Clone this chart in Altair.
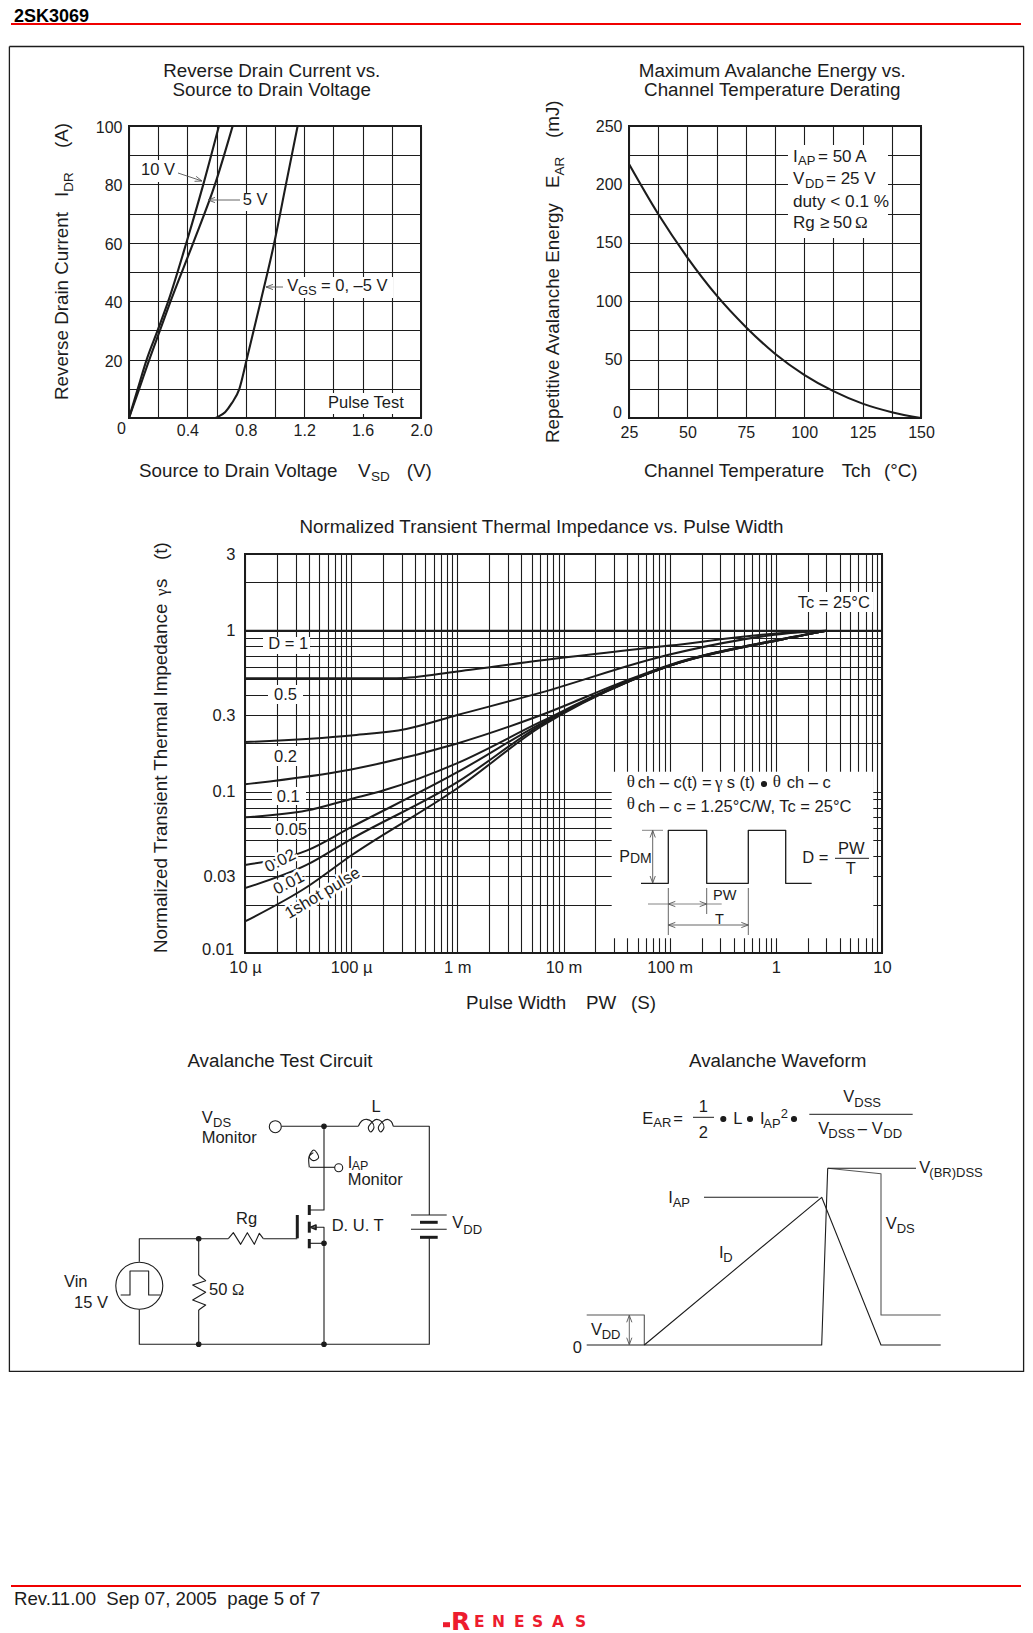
import math
import pandas as pd
import altair as alt

INK = "#1c1c1c"
RED = "#f00000"
SANS = "Liberation Sans"
GREEK = "Liberation Serif"
TS = 18.8

# ---------- chart values ----------
ID_LEVELS = [0, 10, 20, 30, 40, 60, 80, 100]
VSD_10V = [0, 0.06, 0.121, 0.196, 0.269, 0.393, 0.509, 0.616]
VSD_5V = [0, 0.07, 0.139, 0.212, 0.285, 0.44, 0.589, 0.71]
ID_0V = [0, 0, 0.5, 2, 5, 10, 20, 40, 60, 80, 100]
VSD_0V = [0, 0.59, 0.612, 0.658, 0.703, 0.756, 0.806, 0.902, 0.995, 1.075, 1.155]

TCH = [25, 37.5, 50, 62.5, 75, 87.5, 100, 112.5, 125, 137.5, 150]
EAR = [217.4, 174.6, 137.4, 105, 78, 55, 37, 23, 12.3, 5, 0]

PW_1 = [1e-5, 10]
RS_1 = [1, 1]
PW_05 = [1e-5, 1e-4, 2.7e-4, 1e-3, 6e-3, 0.1, 1.15, 3]
RS_05 = [0.508, 0.508, 0.508, 0.56, 0.654, 0.81, 0.97, 1]
PW_02 = [1e-5, 1e-4, 3.3e-4, 1e-3, 6e-3, 0.1, 1.15, 3]
RS_02 = [0.204, 0.224, 0.246, 0.30, 0.412, 0.713, 0.957, 1]
PW_01 = [1e-5, 1e-4, 1e-3, 6e-3, 0.0427, 0.1, 1.15, 3]
RS_01 = [0.1117, 0.138, 0.2, 0.298, 0.503, 0.615, 0.89, 1]
PW_005 = [1e-5, 3.8e-5, 1e-4, 2e-4, 1e-3, 6e-3, 0.0427, 0.1, 1.15, 3]
RS_005 = [0.0696, 0.0766, 0.0905, 0.102, 0.151, 0.271, 0.495, 0.607, 0.885, 1]
PW_002 = [1e-5, 3.8e-5, 1e-4, 1e-3, 6e-3, 0.0427, 0.1, 1.15, 3]
RS_002 = [0.0352, 0.0432, 0.0604, 0.1325, 0.264, 0.492, 0.607, 0.885, 1]
PW_001 = [1e-5, 3.8e-5, 1e-4, 1e-3, 6e-3, 0.0427, 0.1, 1.15, 3]
RS_001 = [0.0253, 0.0352, 0.051, 0.115, 0.258, 0.49, 0.607, 0.885, 1]
PW_1S = [1e-5, 3.8e-5, 1e-4, 1e-3, 6e-3, 0.0427, 0.1, 1.15, 3]
RS_1S = [0.0157, 0.0256, 0.0403, 0.1054, 0.252, 0.49, 0.609, 0.89, 1]

X3_DECADES = [-5, -4, -3, -2, -1, 0, 1]
X3_LABELS = ["10 µ", "100 µ", "1 m", "10 m", "100 m", "1", "10"]
Y3_TICKS = [3, 1, 0.3, 0.1, 0.03]
Y3_LABELS = ["3", "1", "0.3", "0.1", "0.03"]

# ---------- layout ----------
PAGE_W, PAGE_H = 1017, 1625
P1 = 292
C3_W, C3_H = 637, 399
LEFT_1, GAP_12 = 121, 208
LEFT_3 = 237
TOP = 118
GAP_ROWS = 136


def frame():
    return alt.ViewBackground(stroke=INK, strokeWidth=2)


def axis(values, expr, pad, offset=0, size=16):
    return alt.Axis(values=values, labelExpr=expr, title=None, ticks=False, domain=False,
                    grid=True, gridColor=INK, gridWidth=1.1, labelFont=SANS, labelFontSize=size,
                    labelColor=INK, labelPadding=pad, labelOverlap=False, labelBound=False,
                    labelFlush=False, labelOffset=offset)


def table(**series):
    rows = []
    for name, (xs, ys) in series.items():
        rows += [{"curve": name, "u": x, "v": y} for x, y in zip(xs, ys)]
    return pd.DataFrame(rows)


# ---------- the three graphs ----------
chart1 = alt.Chart(table(a=(VSD_10V, ID_LEVELS), b=(VSD_5V, ID_LEVELS), c=(VSD_0V, ID_0V))).mark_line(
    interpolate="monotone", clip=True, color=INK, strokeWidth=2.1
).encode(
    x=alt.X("u:Q", scale=alt.Scale(domain=[0, 2], nice=False),
            axis=axis([round(0.2 * i, 1) for i in range(11)],
                      "(round(datum.value*10)%4==0 && datum.value>0) ? format(datum.value,'.1f') : ''", 4)),
    y=alt.Y("v:Q", scale=alt.Scale(domain=[0, 100], nice=False),
            axis=axis([10 * i for i in range(11)],
                      "(datum.value%20==0 && datum.value>0) ? datum.value : ''", 7, 1.5)),
    detail="curve:N",
).properties(width=P1, height=P1, view=frame())

chart2 = alt.Chart(table(a=(TCH, EAR))).mark_line(
    interpolate="monotone", clip=False, color=INK, strokeWidth=2.1
).encode(
    x=alt.X("u:Q", scale=alt.Scale(domain=[25, 150], nice=False),
            axis=axis([25 + 12.5 * i for i in range(11)],
                      "(datum.value-25)%25==0 ? datum.value : ''", 6)),
    y=alt.Y("v:Q", scale=alt.Scale(domain=[0, 250], nice=False),
            axis=axis([25 * i for i in range(11)],
                      "(datum.value%50==0 && datum.value>0) ? datum.value : ''", 7, 0)),
    detail="curve:N",
).properties(width=P1, height=P1, view=frame())

x3_values = [m * 10.0 ** d for d in X3_DECADES[:-1] for m in range(1, 10)] + [10]
x3_expr = "".join(
    f"abs(log(datum.value)/LN10-({d}))<0.000001 ? '{t}' : " for d, t in zip(X3_DECADES, X3_LABELS)
) + "''"
y3_values = [m * 0.01 for m in range(1, 10)] + [m * 0.1 for m in range(1, 10)] + [1, 2, 3]
y3_expr = "".join(
    f"abs(datum.value-{v})<0.0000001 ? '{t}' : " for v, t in zip(Y3_TICKS, Y3_LABELS)
) + "''"

chart3 = alt.Chart(table(
    d1=(PW_1, RS_1), d05=(PW_05, RS_05), d02=(PW_02, RS_02), d01=(PW_01, RS_01),
    d005=(PW_005, RS_005), d002=(PW_002, RS_002), d001=(PW_001, RS_001), s1=(PW_1S, RS_1S),
)).mark_line(interpolate="monotone", clip=True, color=INK, strokeWidth=2).encode(
    x=alt.X("u:Q", scale=alt.Scale(type="log", domain=[1e-5, 10], nice=False),
            axis=axis(x3_values, x3_expr, 6, 0, 16.5)),
    y=alt.Y("v:Q", scale=alt.Scale(type="log", domain=[0.01, 3], nice=False),
            axis=axis(y3_values, y3_expr, 10, 0, 16.5)),
    detail="curve:N",
).properties(width=C3_W, height=C3_H, view=frame())

# ---------- page drawing: headers, frame, annotations, diagrams ----------
lines, smooth, rects, dots, left, center, greek, halo, bold = [], [], [], [], [], [], [], [], []


def L(pts, w=1.2, c=INK, into=None):
    target = lines if into is None else into
    uid = f"s{len(lines)}_{len(smooth)}"
    for i, (x, y) in enumerate(pts):
        target.append({"id": uid, "seq": i, "x": x, "y": y, "w": w, "c": c})


def T(x, y, t, s=16.5, a=0, c=INK):
    left.append({"x": x, "y": y, "t": t, "s": s, "a": a, "c": c})


def C(x, y, t, s=16.5):
    center.append({"x": x, "y": y, "t": t, "s": s, "a": 0, "c": INK})


def G(x, y, t, s=16.5, a=0):
    greek.append({"x": x, "y": y, "t": t, "s": s, "a": a, "c": INK})


def R(x1, y1, x2, y2):
    rects.append({"x": x1, "y": y1, "x2": x2, "y2": y2})


def D(x, y, d=4.5, fill=INK):
    dots.append({"x": x, "y": y, "d": d * d, "f": fill})


def HEAD(x, y, dx, dy, c="#555555", n=7, h=2.6):
    qx, qy = -dy, dx
    L([(x + dx * n + qx * h, y + dy * n + qy * h), (x, y), (x + dx * n - qx * h, y + dy * n - qy * h)], 0.9, c)


def Z5(zx, zy):
    return (50 + zx / 3, 1040 + zy / 3)


# header and footer
bold.append({"x": 14, "y": 22.3, "t": "2SK3069", "s": 18, "a": 0, "c": "#000000"})
L([(11, 23.9), (1021, 23.9)], 2, RED)
L([(9.4, 46.5), (1023.6, 46.5), (1023.6, 1371.4), (9.4, 1371.4), (9.4, 46.5)], 1.3)
L([(11, 1586), (1021, 1586)], 2, RED)
T(14, 1605, "Rev.11.00\u00a0\u00a0Sep 07, 2005\u00a0\u00a0page 5 of 7", 18.6)

# panel titles
C(271.7, 76.7, "Reverse Drain Current vs.", TS)
C(271.7, 95.7, "Source to Drain Voltage", TS)
C(772.3, 76.7, "Maximum Avalanche Energy vs.", TS)
C(772.3, 95.7, "Channel Temperature Derating", TS)
C(541.5, 532.7, "Normalized Transient Thermal Impedance vs. Pulse Width", TS)
C(280, 1066.7, "Avalanche Test Circuit", TS)
C(777.7, 1066.7, "Avalanche Waveform", TS)

# graph 1 axis texts and notes
T(68, 400, "Reverse Drain Current", TS, 270)
T(68, 197, "I", TS, 270)
T(73, 191.7, "DR", 13.5, 270)
T(68, 148, "(A)", TS, 270)
T(139, 476.7, "Source to Drain Voltage", TS)
T(358, 476.7, "V", TS)
T(371, 481, "SD", 13.5)
T(406.7, 476.7, "(V)", TS)
T(117, 433.5, "0", 16)
R(137, 160, 177, 182)
T(141, 175, "10 V")
L([(178, 173), (202, 181)], 0.9, "#555555")
HEAD(202, 181, -0.95, -0.31)
R(241, 193, 270, 211)
T(242.7, 205, "5 V")
L([(240, 200), (208, 200)], 0.9, "#555555")
HEAD(208, 200, 1, 0)
R(284, 277, 393, 298)
T(287.3, 291, "V")
T(298, 295, "GS", 13)
T(321, 291, "= 0, –5 V")
L([(283, 287), (266, 287)], 0.9, "#555555")
HEAD(266, 287, 1, 0)
R(325, 393, 412, 414)
T(328, 408, "Pulse Test")

# graph 2 axis texts and notes
T(559.3, 443, "Repetitive Avalanche Energy", TS, 270)
T(559.3, 188, "E", TS, 270)
T(563.5, 175.5, "AR", 13.5, 270)
T(559.3, 138, "(mJ)", TS, 270)
T(644, 476.7, "Channel Temperature", TS)
T(841.7, 476.7, "Tch", TS)
T(884, 476.7, "(°C)", TS)
T(613, 418, "0", 16)
R(788, 145, 888, 238)
T(793, 161.7, "I", 17)
T(798, 165, "AP", 13)
T(818, 161.7, "= 50 A", 17)
T(793, 184, "V", 17)
T(805, 188, "DD", 13)
T(826, 184, "= 25 V", 17)
T(793, 206.7, "duty < 0.1 %", 17.2)
T(793, 228, "Rg", 17)
T(820, 228, "≥", 17)
T(833, 228, "50", 17)
G(855, 228, "Ω", 17)

# graph 3 axis texts and notes
T(166.7, 953, "Normalized Transient Thermal Impedance", TS, 270)
G(166.7, 596, "γ", 17, 270)
T(166.7, 588, "s", TS, 270)
T(166.7, 560, "(t)", TS, 270)
T(466, 1008.5, "Pulse Width", TS)
T(586, 1008.5, "PW", TS)
T(631, 1008.5, "(S)", TS)
T(202, 955, "0.01", 16.5)
R(795, 592, 873, 612)
T(797.7, 608.3, "Tc = 25°C")
R(263, 637, 310, 654)
T(268.3, 649.3, "D = 1")
R(268, 685, 303, 704)
T(274, 700, "0.5")
R(270, 746, 300, 766)
T(274, 761.7, "0.2")
R(272, 787, 306, 805)
T(276.7, 801.7, "0.1")
R(271, 821, 308, 839)
T(275, 835, "0.05")
for hx, hy, ht, ha in [(268.3, 872.7, "0.02", 333), (276.7, 895, "0.01", 333), (289, 919.3, "1shot pulse", 329)]:
    halo.append({"x": hx, "y": hy, "t": ht, "s": 16.5, "a": ha, "c": "#ffffff"})
    T(hx, hy, ht, 16.5, ha)

# inset of graph 3
R(611.7, 771.7, 873.3, 938.3)
G(626.7, 787, "θ", 17)
T(637.7, 788.3, "ch – c(t) =")
G(715, 788.3, "γ", 17)
T(726.7, 788.3, "s (t)")
D(764, 784, 5)
G(772.7, 787, "θ", 17)
T(786.7, 788.3, "ch – c")
G(626.7, 809.3, "θ", 17)
T(637.7, 811.7, "ch – c = 1.25°C/W, Tc = 25°C")
L([(641, 883.3), (668.3, 883.3), (668.3, 830.3), (706.7, 830.3), (706.7, 883.3), (748.3, 883.3),
   (748.3, 830.3), (785.7, 830.3), (785.7, 883.3), (811.7, 883.3)], 1.3)
L([(642, 830.3), (663, 830.3)], 0.9, "#777777")
L([(652.7, 830.3), (652.7, 883)], 0.9, "#555555")
HEAD(652.7, 830.5, 0, 1)
HEAD(652.7, 883, 0, -1)
T(619.3, 861.7, "P", 16)
T(630, 862.7, "DM", 14)
L([(668.3, 888), (668.3, 935)], 0.9, "#555555")
L([(706.7, 888), (706.7, 914)], 0.9, "#555555")
L([(748.3, 888), (748.3, 935)], 0.9, "#555555")
L([(648, 904), (721.7, 904)], 0.9, "#777777")
HEAD(668.3, 904, 1, 0)
HEAD(706.7, 904, -1, 0)
L([(668.3, 925), (748.3, 925)], 0.9, "#555555")
HEAD(668.3, 925, 1, 0)
HEAD(748.3, 925, -1, 0)
T(713, 900, "PW", 14.5)
T(715, 924, "T", 14.5)
T(802.3, 862.7, "D =")
T(838, 854, "PW", 16.5)
L([(835, 858.3), (869, 858.3)], 1)
C(850.7, 874, "T")

# test circuit
W = 1.1
L([(281.5, 1126.3), (358.3, 1126.3)], W)
L([(393.3, 1126.3), (429.3, 1126.3), (429.3, 1215)], W)
L([(429.3, 1237.3), (429.3, 1344.3), (139.3, 1344.3), (139.3, 1309.3)], W)
L([(139.3, 1261.7), (139.3, 1238.7), (228.3, 1238.7)], W)
L([(263.3, 1238.7), (297.3, 1238.7)], W)
L([(411, 1215), (446.7, 1215)], W)
L([(420, 1222.3), (437.7, 1222.3)], 3)
L([(411, 1229.3), (446.7, 1229.3)], W)
L([(420, 1237.3), (437.7, 1237.3)], 3)
L([Z5(535, 596), Z5(550, 578), Z5(572, 613), Z5(592, 578), Z5(613, 613), Z5(628, 580), Z5(640, 596)], W)
L([(297.3, 1215), (297.3, 1238.3)], 3)
L([(309.3, 1205), (309.3, 1215)], 3)
L([(309.3, 1221.7), (309.3, 1232.7)], 3)
L([(309.3, 1239), (309.3, 1248.3)], 3)
L([(309.3, 1210), (324, 1210), (324, 1126.3)], W)
L([(309.3, 1243.3), (324, 1243.3)], W)
L([(324, 1344.3), (324, 1227.3), (309.3, 1227.3)], W)
L([(310.5, 1227.3), (316, 1225), (316, 1229.6), (310.5, 1227.3)], 1.6)
L([(198.7, 1238.7), (198.7, 1275)], W)
L([Z5(446, 705), Z5(467, 722), Z5(428, 735), Z5(467, 757), Z5(428, 780), Z5(467, 795), Z5(446, 810)], W)
L([(198.7, 1310), (198.7, 1344.3)], W)
L([(310, 1167.3), (335, 1167.3)], W)
L([Z5(925, 259), Z5(935, 243), Z5(950, 238), Z5(965, 245), Z5(972, 262), Z5(962, 276), Z5(955, 262),
   Z5(968, 245), Z5(980, 238), Z5(995, 245), Z5(1002, 262), Z5(992, 276), Z5(985, 262), Z5(998, 245),
   Z5(1012, 238), Z5(1024, 245), Z5(1030, 259)], W, INK, smooth)
L([Z5(778, 382), Z5(777, 350), Z5(792, 330), Z5(806, 352), Z5(790, 362), Z5(778, 350), Z5(790, 338)],
  W, INK, smooth)
for nx, ny in [(324, 1126.3), (198.7, 1238.7), (198.7, 1344.3), (324, 1344.3), (324, 1243.3)]:
    D(nx, ny, 4.5)
D(275.3, 1126.7, 12, "#ffffff")
D(338.7, 1167.7, 8, "#ffffff")
D(139.3, 1285.7, 47, "#ffffff")
pulse_src = [Z5(212, 765), Z5(240, 765), Z5(240, 693), Z5(296, 693), Z5(296, 765), Z5(332, 765)]
T(201.7, 1123.3, "V")
T(213, 1127.3, "DS", 13)
T(201.7, 1143.3, "Monitor")
C(376, 1112.3, "L")
T(347.7, 1168, "I")
T(351.7, 1169.5, "AP", 12.5)
T(347.7, 1185, "Monitor")
T(236, 1224, "Rg")
T(331.7, 1231, "D. U. T")
T(452.3, 1228.3, "V")
T(463.3, 1234.3, "DD", 13)
T(64, 1287.3, "Vin")
T(74, 1307.7, "15 V")
T(209, 1295, "50")
G(232, 1295, "Ω")

# waveform
T(642.3, 1124, "E")
T(653.3, 1127, "AR", 13)
T(673.3, 1124, "=")
C(703.3, 1111.7, "1")
L([(693, 1117.3), (714, 1117.3)], 1)
C(703.3, 1137.7, "2")
D(723.3, 1119, 5)
T(733.3, 1124, "L")
D(750, 1119, 5)
T(760, 1124, "I")
T(763.3, 1127.5, "AP", 13)
T(780.7, 1118.3, "2", 13)
D(794, 1119, 5)
T(843.3, 1101.7, "V")
T(854.3, 1106.7, "DSS", 13)
L([(809.3, 1114.3), (912.7, 1114.3)], 1)
T(818.3, 1134, "V")
T(828.3, 1137.7, "DSS", 13)
T(857.7, 1134, "–")
T(871.7, 1134, "V")
T(883.3, 1137.7, "DD", 13)
GRAY = "#555555"
L([(586.7, 1315), (644.3, 1315), (644.3, 1345)], 1.1, GRAY)
L([(586.7, 1345), (821.7, 1345), (827.7, 1168.3)], 1.1)
L([(827.7, 1168.3), (881, 1173.7), (881, 1315), (940.7, 1315)], 1.1, GRAY)
L([(827.7, 1168.3), (916, 1168.3)], 1.1)
L([(644.3, 1345), (821.7, 1197.3), (881, 1345), (940.7, 1345)], 1.1)
L([(704, 1197.3), (818.3, 1197.3)], 1.1)
L([(629.3, 1315), (629.3, 1345)], 0.9, GRAY)
HEAD(629.3, 1315.3, 0, 1)
HEAD(629.3, 1344.7, 0, -1)
T(919.3, 1173.3, "V")
T(929.3, 1177.3, "(BR)DSS", 13)
T(668.3, 1203.3, "I")
T(672.7, 1206.7, "AP", 13)
T(885.7, 1229, "V")
T(896.7, 1233.3, "DS", 13)
T(719, 1258.3, "I")
T(723.3, 1262.3, "D", 13)
T(591, 1335, "V")
T(601.7, 1339.3, "DD", 13)
T(572.7, 1353.3, "0")

# maker's name
LOGO_RED = "#ed1c2e"
L([(443, 1624.7), (450, 1624.7)], 5, LOGO_RED)
logo = [(451, 1630, "R", 25), (474, 1627.3, "E", 15.5), (492, 1627.3, "N", 15.5), (514, 1627.3, "E", 15.5),
        (532, 1627.3, "S", 15.5), (552, 1627.3, "A", 15.5), (575, 1627.3, "S", 15.5)]
logo_rows = [{"x": x, "y": y, "t": t, "s": s, "a": 0, "c": LOGO_RED} for x, y, t, s in logo]

px = alt.X("x:Q", scale=alt.Scale(domain=[8, 8 + PAGE_W], nice=False, zero=False), axis=None)
py = alt.Y("y:Q", scale=alt.Scale(domain=[8 + PAGE_H, 8], nice=False, zero=False), axis=None)


def line_layer(rows, **kw):
    return alt.Chart(pd.DataFrame(rows)).mark_line(strokeJoin="round", **kw).encode(
        x=px, y=py, detail="id:N", order="seq:Q",
        strokeWidth=alt.StrokeWidth("w:Q", scale=None),
        color=alt.Color("c:N", scale=None),
    )


def text_layer(rows, **kw):
    return alt.Chart(pd.DataFrame(rows)).mark_text(baseline="alphabetic", **kw).encode(
        x=px, y=py, text="t:N",
        size=alt.Size("s:Q", scale=None),
        angle=alt.Angle("a:Q", scale=None),
        color=alt.Color("c:N", scale=None),
    )


pulse_rows = [{"id": "pulse", "seq": i, "x": x, "y": y, "w": W, "c": INK} for i, (x, y) in enumerate(pulse_src)]

page = alt.layer(
    alt.Chart(pd.DataFrame(rects)).mark_rect(color="white").encode(
        x=px, y=py, x2="x2:Q", y2="y2:Q"),
    text_layer(halo, align="left", font=SANS, stroke="white", strokeWidth=5),
    line_layer(lines),
    line_layer(smooth, interpolate="cardinal"),
    alt.Chart(pd.DataFrame(dots)).mark_point(shape="circle", filled=True, opacity=1, stroke=INK,
                                             strokeWidth=1.1).encode(
        x=px, y=py, size=alt.Size("d:Q", scale=None), fill=alt.Fill("f:N", scale=None)),
    line_layer(pulse_rows),
    text_layer(left, align="left", font=SANS),
    text_layer(center, align="center", font=SANS),
    text_layer(greek, align="left", font=GREEK),
    text_layer(bold, align="left", font=SANS, fontWeight="bold"),
    text_layer(logo_rows, align="left", font="DejaVu Sans", fontWeight="bold"),
).properties(width=PAGE_W, height=PAGE_H)


def spacer(w, h):
    return alt.Chart(pd.DataFrame({"a": [0]})).mark_point(opacity=0, size=0, strokeWidth=0).encode(
        x=alt.value(w), y=alt.value(h)).properties(width=w, height=h)


row1 = alt.hconcat(spacer(LEFT_1, 1), alt.hconcat(chart1, chart2, spacing=GAP_12, bounds="flush"),
                   spacing=0, bounds="flush")
row2 = alt.hconcat(spacer(LEFT_3, 1), chart3, spacing=0, bounds="flush")
inner = alt.vconcat(spacer(1, TOP), row1, spacer(1, P1 + GAP_ROWS), row2, spacing=0, bounds="flush")

chart = alt.vconcat(inner, page, spacing=0, bounds="flush").properties(padding=0).configure_view(stroke=None)

chart.save("out.html", embed_options={"renderer": "svg", "actions": False})
